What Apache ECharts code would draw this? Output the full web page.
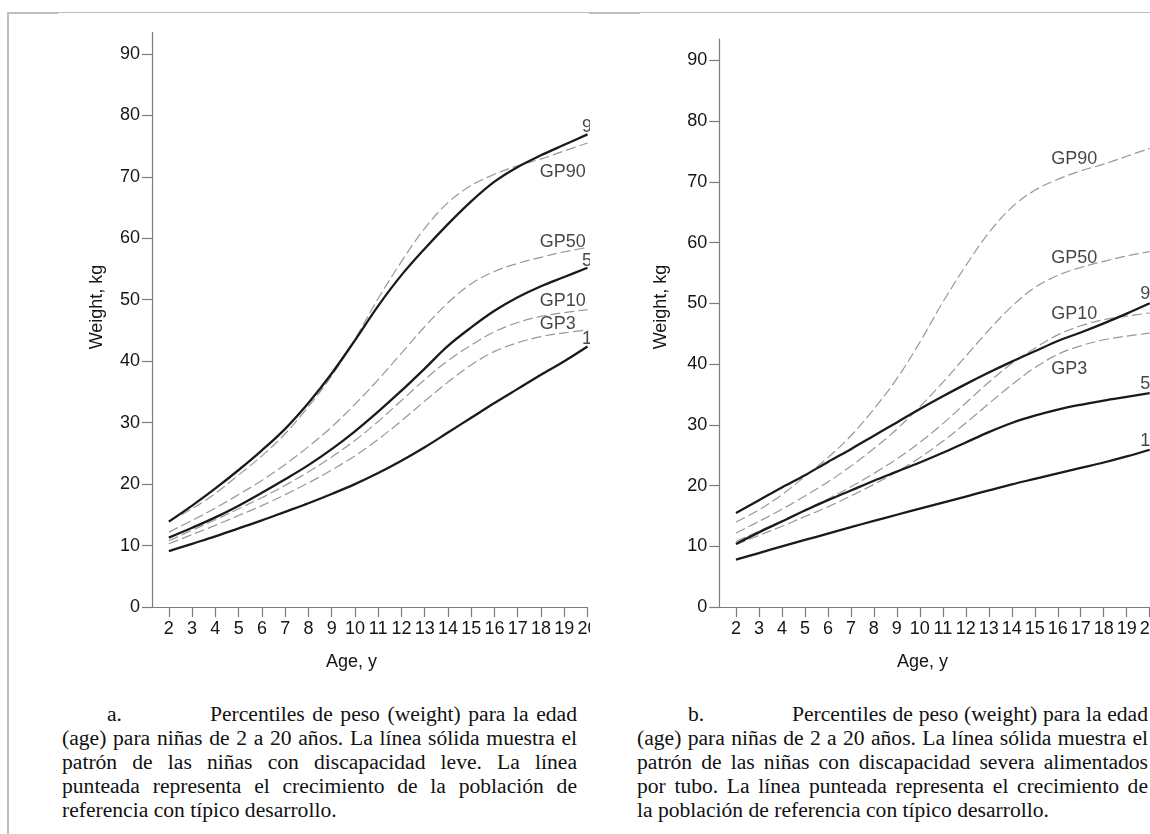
<!DOCTYPE html>
<html>
<head>
<meta charset="utf-8">
<script src="https://cdn.jsdelivr.net/npm/echarts@6/dist/echarts.min.js"></script>
<style>
  html, body { margin: 0; padding: 0; width: 1150px; height: 834px; overflow: hidden; background: #fff; }
  .rule-top { position: absolute; left: 7px; top: 12px; width: 1143px; height: 1px; background: #bdbdbd; }
  .rule-tab { position: absolute; top: 12px; height: 2px; background: #bdbdbd; }
  .rule-left { position: absolute; left: 7px; top: 12px; width: 2px; height: 822px; background: #bdbdbd; }
  .panel { position: absolute; top: 0; height: 690px; overflow: hidden; }
  .chart { position: absolute; left: 0; top: 0; height: 690px; }
  .caption { position: absolute; top: 702px; font-family: "Liberation Serif", "Times New Roman", serif;
             font-size: 21.6px; line-height: 24px; color: #111; }
  .caption .ln { text-align: justify; text-align-last: justify; }
  .caption .ln.last { text-align-last: left; }
  .caption .tag { display: inline-block; }
</style>
</head>
<body>
<div class="rule-top"></div>
<div class="rule-tab" style="left:7px;width:51px;"></div>
<div class="rule-tab" style="left:589px;width:51px;"></div>
<div class="rule-left"></div>

<div class="panel" style="left:0;width:590px;"><div id="chartA" class="chart" style="width:640px;"></div></div>
<div class="panel" style="left:600px;width:550px;"><div id="chartB" class="chart" style="width:600px;"></div></div>

<div class="caption" style="left:62px;width:515px;">
  <div class="ln" style="padding-left:45px;"><span class="tag" style="width:103px;">a.</span>Percentiles de peso (weight) para la edad</div>
  <div class="ln">(age) para niñas de 2 a 20 años. La línea sólida muestra el</div>
  <div class="ln">patrón de las niñas con discapacidad leve. La línea</div>
  <div class="ln">punteada representa el crecimiento de la población de</div>
  <div class="ln last">referencia con típico desarrollo.</div>
</div>
<div class="caption" style="left:637px;width:511px;">
  <div class="ln" style="padding-left:51px;"><span class="tag" style="width:104px;">b.</span>Percentiles de peso (weight) para la edad</div>
  <div class="ln">(age) para niñas de 2 a 20 años. La línea sólida muestra el</div>
  <div class="ln">patrón de las niñas con discapacidad severa alimentados</div>
  <div class="ln">por tubo. La línea punteada representa el crecimiento de</div>
  <div class="ln last">la población de referencia con típico desarrollo.</div>
</div>

<script>
// Age in years (x) for every curve
const ages = [2, 3, 4, 5, 6, 7, 8, 9, 10, 11, 12, 13, 14, 15, 16, 17, 18, 19, 20];

// Reference population (typical development), weight in kg
const gp90 = [14.0, 16.0, 18.5, 21.5, 24.6, 28.2, 32.6, 37.6, 43.6, 50.2, 56.2, 61.6, 65.8, 68.6, 70.4, 71.8, 72.9, 74.2, 75.5];
const gp50 = [12.2, 14.1, 16.1, 18.3, 20.6, 23.2, 26.1, 29.3, 33.0, 37.0, 41.3, 45.6, 49.5, 52.6, 54.6, 55.9, 56.9, 57.8, 58.5];
const gp10 = [10.8, 12.5, 14.2, 16.0, 17.8, 19.8, 22.0, 24.4, 27.1, 30.2, 33.6, 37.0, 40.1, 42.6, 44.8, 46.3, 47.3, 47.9, 48.4];
const gp3  = [10.3, 11.8, 13.3, 14.9, 16.5, 18.3, 20.2, 22.3, 24.6, 27.3, 30.3, 33.5, 36.6, 39.4, 41.6, 43.0, 44.0, 44.6, 45.1];

// Girls with mild disability (panel a)
const mild90 = [13.9, 16.5, 19.3, 22.3, 25.5, 29.0, 33.2, 38.0, 43.4, 49.0, 54.0, 58.3, 62.3, 66.0, 69.2, 71.6, 73.5, 75.2, 76.9];
const mild50 = [11.3, 12.9, 14.6, 16.5, 18.6, 20.8, 23.1, 25.7, 28.6, 31.8, 35.2, 38.8, 42.5, 45.5, 48.2, 50.4, 52.2, 53.7, 55.2];
const mild10 = [9.1, 10.3, 11.5, 12.8, 14.1, 15.5, 16.9, 18.4, 20.0, 21.8, 23.8, 26.0, 28.4, 30.8, 33.2, 35.5, 37.8, 40.0, 42.4];

// Girls with severe disability, tube fed (panel b)
const tube90 = [15.5, 17.6, 19.7, 21.7, 23.9, 26.0, 28.2, 30.4, 32.6, 34.7, 36.7, 38.6, 40.4, 42.1, 43.8, 45.2, 46.7, 48.3, 50.0];
const tube50 = [10.4, 12.3, 14.1, 15.9, 17.6, 19.2, 20.8, 22.3, 23.8, 25.4, 27.1, 28.8, 30.3, 31.5, 32.5, 33.3, 34.0, 34.6, 35.2];
const tube10 = [7.8, 8.9, 10.0, 11.05, 12.1, 13.15, 14.2, 15.2, 16.2, 17.2, 18.2, 19.2, 20.2, 21.1, 22.0, 22.9, 23.8, 24.8, 25.9];

// Axis ticks and series names
const xTickValues = [2, 3, 4, 5, 6, 7, 8, 9, 10, 11, 12, 13, 14, 15, 16, 17, 18, 19, 20];
const yTickValues = [0, 10, 20, 30, 40, 50, 60, 70, 80, 90];
const refNames = ['GP90', 'GP50', 'GP10', 'GP3'];
const groupNames = ['90', '50', '10'];

const FONT = '"Liberation Sans", Arial, Helvetica, sans-serif';
const INK = '#151515';
const AXIS = '#7d7d7d';
const FS = 18;

function pairs(vals) { return ages.map((a, i) => [a, vals[i]]); }

function buildOption(p) {
  const series = [];
  [gp90, gp50, gp10, gp3].forEach((vals, i) => series.push({
    type: 'line', name: refNames[i], data: pairs(vals), smooth: 0.35,
    symbol: 'none', showSymbol: false, silent: true, z: 2,
    lineStyle: { color: '#989898', width: 1.2, type: [10, 4] }
  }));
  p.group.forEach((vals, i) => series.push({
    type: 'line', name: groupNames[i], data: pairs(vals), smooth: 0.35,
    symbol: 'none', showSymbol: false, silent: true, z: 3,
    lineStyle: { color: '#1a1a1a', width: 2.3 }
  }));
  // labels at the end of each solid curve
  series.push({
    type: 'scatter', symbol: 'circle', symbolSize: 1, silent: true, z: 4,
    itemStyle: { color: 'rgba(0,0,0,0)' },
    data: p.group.map((vals, i) => ({ name: groupNames[i], value: [ages[ages.length - 1], vals[vals.length - 1]] })),
    label: { show: true, position: 'right', distance: 0, offset: p.endOffset,
             formatter: d => d.name, fontSize: FS, color: INK, fontFamily: FONT }
  });
  // reference curve names
  series.push({
    type: 'scatter', symbol: 'circle', symbolSize: 1, silent: true, z: 4,
    itemStyle: { color: 'rgba(0,0,0,0)' },
    data: p.refAnchors.map((c, i) => ({ name: refNames[i], value: c })),
    label: { show: true, position: 'right', distance: 0,
             formatter: d => d.name, fontSize: FS, color: INK, fontFamily: FONT }
  });

  const axisLine = { show: true, onZero: false, lineStyle: { color: AXIS, width: 1.2 } };
  return {
    animation: false,
    grid: { left: p.gridLeft, right: p.gridRight, top: p.gridTop, bottom: p.gridBottom,
            containLabel: false, outerBoundsMode: 'none' },
    xAxis: {
      type: 'value', min: 1.275, max: 20,
      axisLine: axisLine,
      axisTick: { show: true, length: 10, customValues: xTickValues, lineStyle: { color: AXIS, width: 1.2 } },
      axisLabel: { customValues: xTickValues, margin: 13, fontSize: FS, color: INK, fontFamily: FONT },
      splitLine: { show: false }
    },
    yAxis: {
      type: 'value', min: 0, max: 93.5,
      axisLine: axisLine,
      axisTick: { show: true, length: 10, customValues: yTickValues, lineStyle: { color: AXIS, width: 1.2 } },
      axisLabel: { customValues: yTickValues, margin: 12, fontSize: FS, color: INK, fontFamily: FONT },
      splitLine: { show: false }
    },
    graphic: [
      { type: 'text', x: p.yTitle[0], y: p.yTitle[1], rotation: Math.PI / 2,
        style: { text: 'Weight, kg', fill: INK, font: FS + 'px ' + FONT, align: 'center', verticalAlign: 'middle' } },
      { type: 'text', x: p.xTitle[0], y: p.xTitle[1],
        style: { text: 'Age, y', fill: INK, font: FS + 'px ' + FONT, align: 'center', verticalAlign: 'middle' } }
    ],
    series: series
  };
}

const chartA = echarts.init(document.getElementById('chartA'), null, { renderer: 'canvas' });
chartA.setOption(buildOption({
  group: [mild90, mild50, mild10],
  gridLeft: 152, gridRight: 52.5, gridTop: 32.3, gridBottom: 82.9,
  endOffset: [-6, -7],
  refAnchors: [[17.93, 70.75], [17.93, 59.4], [17.93, 49.85], [17.93, 46.1]],
  yTitle: [97, 307], xTitle: [351.5, 662]
}));

const chartB = echarts.init(document.getElementById('chartB'), null, { renderer: 'canvas' });
chartB.setOption(buildOption({
  group: [tube90, tube50, tube10],
  gridLeft: 119.3, gridRight: 50.3, gridTop: 39, gridBottom: 82.9,
  endOffset: [-10, -9],
  refAnchors: [[15.69, 73.75], [15.69, 57.4], [15.69, 48.2], [15.69, 39.2]],
  yTitle: [61, 307], xTitle: [322.5, 662]
}));
</script>
</body>
</html>
